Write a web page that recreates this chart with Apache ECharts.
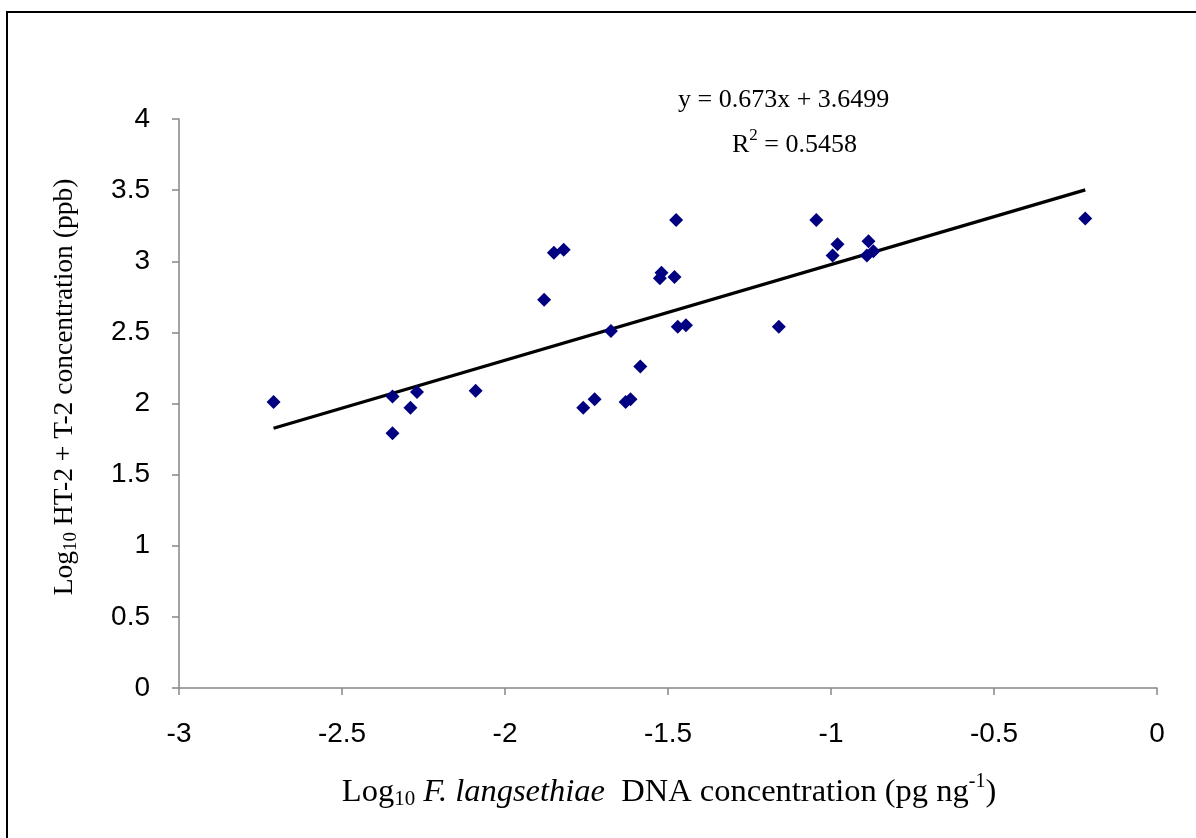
<!DOCTYPE html>
<html>
<head>
<meta charset="utf-8">
<script src="https://cdn.jsdelivr.net/npm/echarts@6/dist/echarts.min.js"></script>
<style>
html,body{margin:0;padding:0;background:#fff;}
#chart{width:1196px;height:838px;}
</style>
</head>
<body>
<div id="chart"></div>
<script>
// Data
const dnaLog = [-2.71, -2.345, -2.27, -2.29, -2.345, -2.09, -1.88, -1.85, -1.82, -1.475,
                -1.045, -0.98, -0.995, -1.52, -1.525, -1.48, -1.675, -1.47, -1.445, -1.16,
                -1.585, -1.725, -1.76, -1.63, -1.615, -0.885, -0.89, -0.87, -0.22];
const toxinLog = [2.01, 2.05, 2.08, 1.97, 1.79, 2.09, 2.73, 3.06, 3.08, 3.29,
                  3.29, 3.12, 3.04, 2.92, 2.88, 2.89, 2.51, 2.54, 2.55, 2.54,
                  2.26, 2.03, 1.97, 2.01, 2.03, 3.14, 3.04, 3.07, 3.30];
const trendSlope = 0.673;
const trendIntercept = 3.6499;
const trendXRange = [-2.71, -0.22];
const rSquared = 0.5458;
const xTicks = [-3, -2.5, -2, -1.5, -1, -0.5, 0];
const yTicks = [0, 0.5, 1, 1.5, 2, 2.5, 3, 3.5, 4];

const scatterData = dnaLog.map((x, i) => [x, toxinLog[i]]);
const trendData = trendXRange.map(x => [x, trendSlope * x + trendIntercept]);

const chart = echarts.init(document.getElementById('chart'), null, {renderer: 'canvas'});
const serif = '"Liberation Serif", "Times New Roman", serif';
const sans = '"Liberation Sans", Arial, sans-serif';
const axisGray = '#868686';

chart.setOption({
  animation: false,
  backgroundColor: '#fff',
  grid: {left: 179, right: 39, top: 119, bottom: 150, containLabel: false},
  xAxis: {
    type: 'value', min: xTicks[0], max: xTicks[xTicks.length - 1], interval: 0.5,
    axisLine: {show: true, onZero: false, lineStyle: {color: axisGray, width: 1.5}},
    axisTick: {show: true, inside: false, length: 7, lineStyle: {color: axisGray, width: 1.5}},
    splitLine: {show: false},
    axisLabel: {color: '#000', fontFamily: sans, fontSize: 28, margin: 32}
  },
  yAxis: {
    type: 'value', min: yTicks[0], max: yTicks[yTicks.length - 1], interval: 0.5,
    axisLine: {show: true, onZero: false, lineStyle: {color: axisGray, width: 1.5}},
    axisTick: {show: true, inside: false, length: 7, lineStyle: {color: axisGray, width: 1.5}},
    splitLine: {show: false},
    axisLabel: {color: '#000', fontFamily: sans, fontSize: 28, margin: 29}
  },
  graphic: [
    {type: 'rect', silent: true, z: 100,
     shape: {x: 7, y: 12, width: 1300, height: 1000},
     style: {fill: 'none', stroke: '#000', lineWidth: 2}},
    // x axis title
    {type: 'text', x: 669, y: 792, z: 100, silent: true,
     style: {
       text: '{t|Log}{sub|10}{t| }{it|F. langsethiae}{t|  DNA concentration (pg ng}{sup|-1}{t|)}',
       align: 'center', verticalAlign: 'middle',
       rich: {
         t: {fontFamily: serif, fontSize: 32.5, fill: '#000', lineHeight: 40, verticalAlign: 'middle'},
         it: {fontFamily: serif, fontSize: 32.5, fontStyle: 'italic', fill: '#000', lineHeight: 40, verticalAlign: 'middle'},
         sub: {fontFamily: serif, fontSize: 21, fill: '#000', lineHeight: 20, verticalAlign: 'bottom', padding: [0, 0, 2, 0]},
         sup: {fontFamily: serif, fontSize: 20, fill: '#000', lineHeight: 20, verticalAlign: 'top'}
       }
     }},
    // y axis title
    {type: 'text', x: 65, y: 387, rotation: Math.PI / 2, z: 100, silent: true,
     style: {
       text: '{t|Log}{sub|10}{t| HT-2 + T-2 concentration (ppb)}',
       align: 'center', verticalAlign: 'middle',
       rich: {
         t: {fontFamily: serif, fontSize: 27.5, fill: '#000', lineHeight: 36, verticalAlign: 'middle'},
         sub: {fontFamily: serif, fontSize: 19, fill: '#000', lineHeight: 18, verticalAlign: 'bottom', padding: [0, 0, 2, 0]}
       }
     }},
    {type: 'text', left: 678, top: 87, z: 100, silent: true,
     style: {text: 'y = ' + trendSlope + 'x + ' + trendIntercept, font: '26px ' + serif, fill: '#000'}},
    {type: 'text', left: 732, top: 127, z: 100, silent: true,
     style: {text: '{t|R}{sup|2}{t| = ' + rSquared + '}',
       rich: {
         t: {fontFamily: serif, fontSize: 26, fill: '#000', lineHeight: 36, verticalAlign: 'middle'},
         sup: {fontFamily: serif, fontSize: 17, fill: '#000', lineHeight: 17, verticalAlign: 'top'}
       }}}
  ],
  series: [
    {type: 'line', data: trendData, showSymbol: false, symbol: 'none',
     lineStyle: {color: '#000', width: 3.3}, z: 2, silent: true},
    {type: 'scatter', data: scatterData, symbol: 'diamond', symbolSize: 14,
     itemStyle: {color: '#000080', opacity: 1}, z: 3}
  ]
});
</script>
</body>
</html>
